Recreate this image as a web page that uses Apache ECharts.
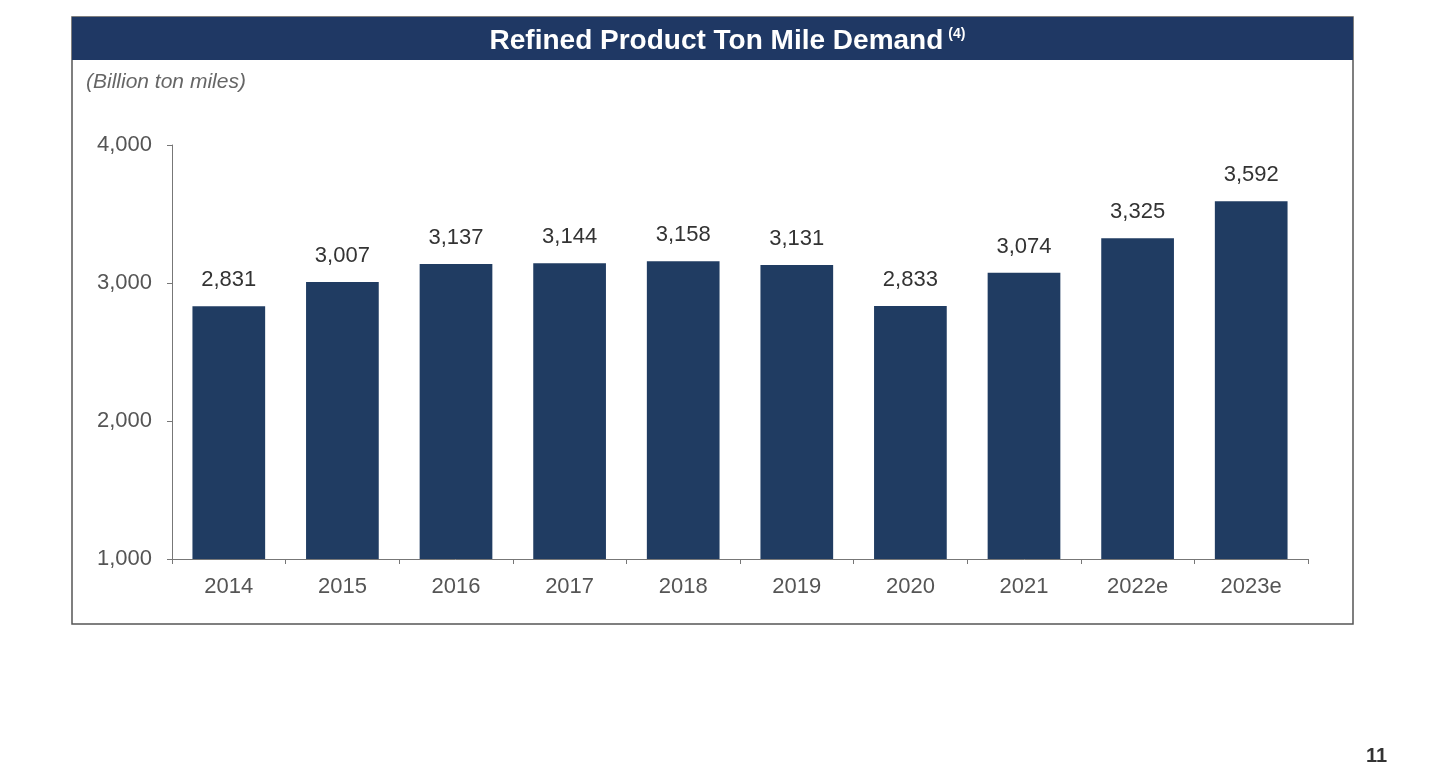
<!DOCTYPE html>
<html>
<head>
<meta charset="utf-8">
<script src="https://cdn.jsdelivr.net/npm/echarts@6/dist/echarts.min.js"></script>
<style>html,body{margin:0;padding:0;background:#fff;}#c{width:1455px;height:767px;}</style>
</head>
<body>
<div id="c"></div>
<script>
const categories = ['2014','2015','2016','2017','2018','2019','2020','2021','2022e','2023e'];
const demand = [2831, 3007, 3137, 3144, 3158, 3131, 2833, 3074, 3325, 3592];
const yTicks = [1000, 2000, 3000, 4000];

const fmt = v => v.toLocaleString('en-US');
const chart = echarts.init(document.getElementById('c'));
const font = '"Liberation Sans", Arial, sans-serif';
chart.setOption({
  animation: false,
  textStyle: { fontFamily: font },
  graphic: [
    { type: 'rect', shape: { x: 72, y: 17, width: 1281, height: 607 }, style: { fill: '#fff', stroke: '#555', lineWidth: 1.5 }, z: -10 },
    { type: 'rect', shape: { x: 72, y: 17, width: 1281, height: 43 }, style: { fill: '#1f3864' }, z: -5 },
    { type: 'text', left: 86, top: 72, style: { text: '(Billion ton miles)', fill: '#666', font: 'italic 21px ' + font } },
    { type: 'text', left: 1366, top: 746, style: { text: '11', fill: '#333', font: 'bold 20px ' + font } }
  ],
  title: {
    text: '{t|Refined Product Ton Mile Demand} {s|(4)}',
    left: 'center', top: 22,
    textStyle: {
      rich: {
        t: { fontSize: 28, fontWeight: 'bold', color: '#fff', fontFamily: font },
        s: { fontSize: 14, fontWeight: 'bold', color: '#fff', fontFamily: font, verticalAlign: 'top', padding: [0,0,10,0] }
      }
    }
  },
  grid: { left: 172, right: 147, top: 145, bottom: 208, containLabel: false },
  xAxis: {
    type: 'category',
    data: categories,
    axisLine: { lineStyle: { color: '#777', width: 1 } },
    axisTick: { show: true, length: 5, lineStyle: { color: '#777' } },
    axisLabel: { color: '#555', fontSize: 22, margin: 17, fontFamily: font }
  },
  yAxis: {
    type: 'value',
    min: yTicks[0], max: yTicks[yTicks.length - 1], interval: 1000,
    axisLine: { show: true, lineStyle: { color: '#777', width: 1 } },
    axisTick: { show: true, length: 5, lineStyle: { color: '#777' } },
    splitLine: { show: false },
    axisLabel: { color: '#555', fontSize: 22, margin: 20, formatter: v => fmt(v), fontFamily: font }
  },
  series: [{
    type: 'bar',
    data: demand,
    barWidth: '64%',
    itemStyle: { color: '#203c62' },
    label: { show: true, position: 'top', distance: 15, color: '#333', fontSize: 22, formatter: p => fmt(p.value), fontFamily: font }
  }]
});
</script>
</body>
</html>
